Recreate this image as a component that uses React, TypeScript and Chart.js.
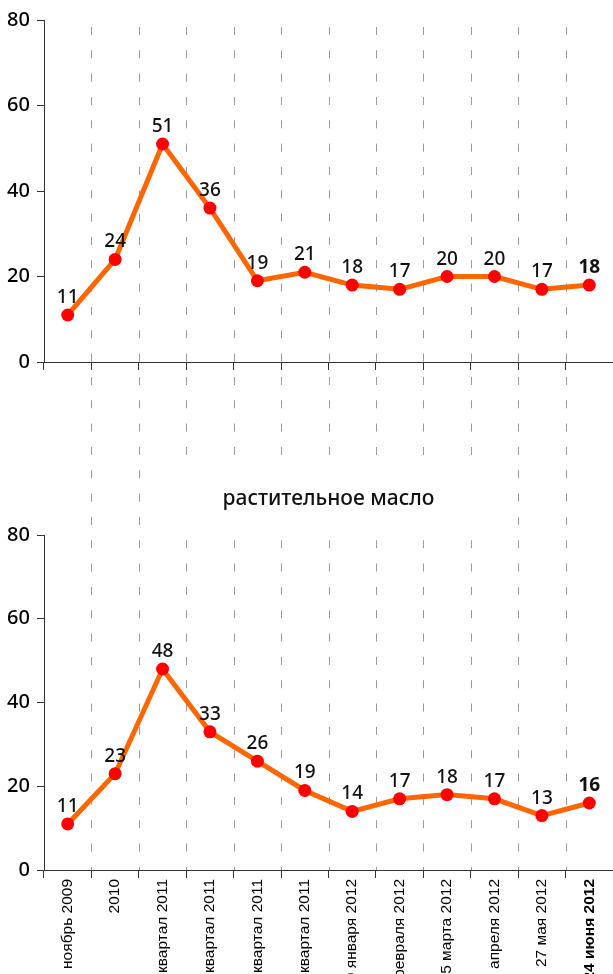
import React, { useEffect, useRef } from "react";
import { Chart, registerables } from "chart.js";
Chart.register(...registerables);

const categories = [
  "ноябрь 2009",
  "2010",
  "I квартал 2011",
  "II квартал 2011",
  "III квартал 2011",
  "IV квартал 2011",
  "29 января 2012",
  "26 февраля 2012",
  "25 марта 2012",
  "29 апреля 2012",
  "27 мая 2012",
  "24 июня 2012",
];
const topValues = [11, 24, 51, 36, 19, 21, 18, 17, 20, 20, 17, 18];
const oilValues = [11, 23, 48, 33, 26, 19, 14, 17, 18, 17, 13, 16];
const yMin = 0;
const yMax = 80;
const yStep = 20;
const oilTitle = "растительное масло";

const TOP_CANVAS_H = 440;
const BOTTOM_CANVAS_TOP = 440;
const BOTTOM_CANVAS_H = 660;
const DASH_START = 27;
const DASH_LEN = 8;
const DASH_PERIOD = 23.33;

function dashPlugin(pageTop: number, fromY: number | null, toChartBottom: boolean) {
  return {
    id: "dashes",
    beforeDatasetsDraw(chart: any) {
      const ctx = chart.ctx;
      const xs = chart.scales.x;
      const n = categories.length;
      const y0 = fromY === null ? 0 : fromY;
      const y1 = toChartBottom ? chart.chartArea.bottom : chart.height;
      ctx.save();
      ctx.strokeStyle = "#9a9a9a";
      ctx.lineWidth = 1;
      ctx.setLineDash([DASH_LEN, DASH_PERIOD - DASH_LEN]);
      let off = (pageTop + y0 - DASH_START) % DASH_PERIOD;
      if (off < 0) off += DASH_PERIOD;
      ctx.lineDashOffset = off;
      for (let i = 0; i < n - 1; i++) {
        const x = Math.round((xs.getPixelForValue(i) + xs.getPixelForValue(i + 1)) / 2) + 0.5;
        ctx.beginPath();
        ctx.moveTo(x, y0);
        ctx.lineTo(x, y1);
        ctx.stroke();
      }
      ctx.restore();
    },
  };
}

const titlePlugin = {
  id: "oilTitle",
  beforeDatasetsDraw(chart: any) {
    const ctx = chart.ctx;
    const ca = chart.chartArea;
    const cx = (ca.left + ca.right) / 2;
    ctx.save();
    ctx.fillStyle = "#ffffff";
    ctx.fillRect(172, 470 - BOTTOM_CANVAS_TOP, 326, 58);
    ctx.fillStyle = "#111";
    ctx.font = "500 21px 'Noto Sans'";
    ctx.textAlign = "center";
    ctx.textBaseline = "middle";
    ctx.fillText(oilTitle, cx, 499 - BOTTOM_CANVAS_TOP);
    ctx.restore();
  },
};

const valueLabelsPlugin = {
  id: "valueLabels",
  afterDatasetsDraw(chart: any) {
    const ctx = chart.ctx;
    const meta = chart.getDatasetMeta(0);
    const data = chart.data.datasets[0].data;
    ctx.save();
    ctx.fillStyle = "#111";
    ctx.textAlign = "center";
    ctx.textBaseline = "alphabetic";
    meta.data.forEach((pt: any, i: number) => {
      const last = i === data.length - 1;
      ctx.font = (last ? "bold " : "500 ") + "19px 'Noto Sans'";
      ctx.fillText(String(data[i]), pt.x, pt.y - 12);
    });
    ctx.restore();
  },
};

function makeConfig(values: number[], opts: { top: number; bottom: number; showLabels: boolean; xHeight: number; plugins: any[] }) {
  return {
    type: "line" as const,
    data: {
      labels: categories,
      datasets: [
        {
          data: values,
          borderColor: "#FF6600",
          borderWidth: 5,
          pointBackgroundColor: "#FF0000",
          pointBorderColor: "#FF0000",
          pointBorderWidth: 0,
          pointRadius: 6.5,
          tension: 0,
          clip: false as any,
        },
      ],
    },
    options: {
      animation: false as const,
      responsive: false,
      maintainAspectRatio: false,
      layout: { autoPadding: false, padding: { top: opts.top, bottom: opts.bottom, left: 0, right: 0 } },
      plugins: { legend: { display: false }, tooltip: { enabled: false }, title: { display: false } },
      scales: {
        x: {
          type: "category" as const,
          offset: true,
          grid: { display: true, drawOnChartArea: false, drawTicks: true, tickLength: 8, color: "#333", offset: true },
          border: { display: true, color: "#333", width: 1 },
          ticks: {
            display: opts.showLabels,
            autoSkip: false,
            minRotation: 90,
            maxRotation: 90,
            padding: 1,
            color: "#000",
            font: (c: any) => ({
              family: "'Liberation Sans', Arial, sans-serif",
              size: 15.5,
              weight: c.index === categories.length - 1 ? "bold" : "normal",
            }),
          },
          afterFit: (s: any) => {
            s.height = opts.xHeight;
            s.paddingLeft = 0;
            s.paddingRight = 0;
          },
        },
        y: {
          min: yMin,
          max: yMax,
          grid: { display: true, drawOnChartArea: false, drawTicks: true, tickLength: 7, color: "#333" },
          border: { display: true, color: "#333", width: 1 },
          ticks: {
            stepSize: yStep,
            padding: 7,
            color: "#000",
            font: { family: "'Noto Sans', sans-serif", size: 20, weight: "500" },
          },
          afterFit: (s: any) => {
            s.width = 44;
          },
        },
      },
    },
    plugins: opts.plugins,
  };
}

export default function App() {
  const topRef = useRef<HTMLCanvasElement>(null);
  const botRef = useRef<HTMLCanvasElement>(null);

  useEffect(() => {
    const c1 = new Chart(
      topRef.current as HTMLCanvasElement,
      makeConfig(topValues, {
        top: 20,
        bottom: TOP_CANVAS_H - 362 - 8,
        showLabels: false,
        xHeight: 8,
        plugins: [dashPlugin(0, DASH_START, false), valueLabelsPlugin],
      }) as any
    );
    const c2 = new Chart(
      botRef.current as HTMLCanvasElement,
      makeConfig(oilValues, {
        top: 535 - BOTTOM_CANVAS_TOP,
        bottom: BOTTOM_CANVAS_H - (870 - BOTTOM_CANVAS_TOP) - 230,
        showLabels: true,
        xHeight: 230,
        plugins: [dashPlugin(BOTTOM_CANVAS_TOP, null, true), titlePlugin, valueLabelsPlugin],
      }) as any
    );
    return () => {
      c1.destroy();
      c2.destroy();
    };
  }, []);

  return (
    <div
      style={{
        position: "fixed",
        left: 0,
        top: 0,
        width: 613,
        height: 974,
        overflow: "hidden",
        background: "#fff",
      }}
    >
      <canvas
        ref={topRef}
        width={613}
        height={TOP_CANVAS_H}
        style={{ position: "absolute", left: 0, top: 0, width: 613, height: TOP_CANVAS_H }}
      />
      <canvas
        ref={botRef}
        width={613}
        height={BOTTOM_CANVAS_H}
        style={{ position: "absolute", left: 0, top: BOTTOM_CANVAS_TOP, width: 613, height: BOTTOM_CANVAS_H }}
      />
    </div>
  );
}
